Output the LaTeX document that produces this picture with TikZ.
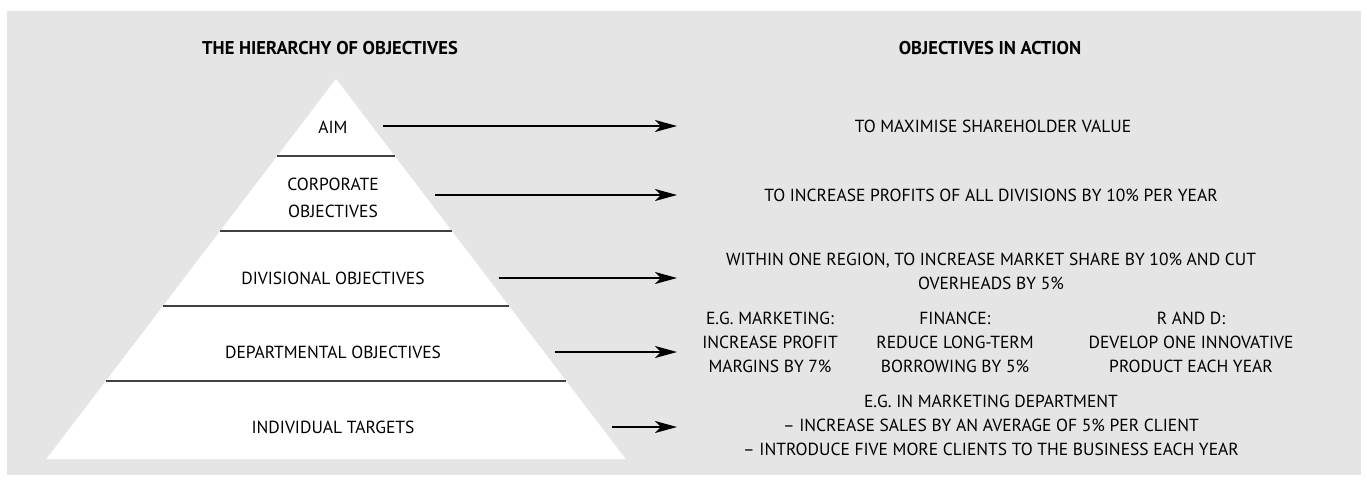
\documentclass[tikz,border=0pt]{standalone}
\usepackage{fontspec}
\setmainfont{PT Sans}
\usetikzlibrary{arrows.meta}

\tikzset{
  level/.style={align=center, font=\fontsize{17.5}{24}\selectfont, inner sep=0pt},
  action/.style={align=center, font=\fontsize{17.5}{24}\selectfont, inner sep=0pt},
  heading/.style={font=\bfseries\fontsize{18.5}{24}\selectfont, inner sep=0pt},
  band/.style={line width=1.3pt, black!75},
  goal/.style={-{Stealth[length=22pt, width=12pt, inset=6pt]}, line width=1.5pt},
}

\begin{document}
\begin{tikzpicture}[x=1pt, y=-1pt]
    % --- 参数 ---
    \def\midX{336}      % 金字塔中轴
    \def\apexY{79}      % 顶点高度
    \def\slope{0.762}   % 每下降 1 单位的半宽增量

    % --- 背景 ---
    \useasboundingbox (0,0) rectangle (1367,484);
    \fill[gray!20] (7,11) rectangle (1361,475);

    % --- 金字塔 ---
    \fill[white] (\midX,\apexY) -- ({\midX-\slope*(459-\apexY)},459)
        -- ({\midX+\slope*(459-\apexY)},459) -- cycle;
    % 分层线
    \foreach \y in {156,231,306,381}
        \draw[band] ({\midX-\slope*(\y-\apexY)},\y) -- ({\midX+\slope*(\y-\apexY)},\y);

    % --- 标题 ---
    \node[heading] (hier) at (330,48) {THE HIERARCHY OF OBJECTIVES};
    \node[heading] (act) at (990,48) {OBJECTIVES IN ACTION};

    % --- 层级名称 ---
    \node[level] (aim) at (333,127) {AIM};
    \node[level] (corp) at (333,198) {CORPORATE\\[3pt]OBJECTIVES};
    \node[level] (div) at (333,278) {DIVISIONAL OBJECTIVES};
    \node[level] (dept) at (333,352) {DEPARTMENTAL OBJECTIVES};
    \node[level] (ind) at (333,427) {INDIVIDUAL TARGETS};

    % --- 目标实例 ---
    \node[action] (aim-act) at (993,126) {TO MAXIMISE SHAREHOLDER VALUE};
    \node[action] (corp-act) at (991,195) {TO INCREASE PROFITS OF ALL DIVISIONS BY 10\% PER YEAR};
    \node[action] (div-act) at (991,271) {WITHIN ONE REGION, TO INCREASE MARKET SHARE BY 10\% AND CUT\\OVERHEADS BY 5\%};
    \node[action] (mkt) at (770,342) {E.G. MARKETING:\\INCREASE PROFIT\\MARGINS BY 7\%};
    \node[action] (fin) at (955,342) {FINANCE:\\REDUCE LONG-TERM\\BORROWING BY 5\%};
    \node[action] (rnd) at (1191,342) {R AND D:\\DEVELOP ONE INNOVATIVE\\PRODUCT EACH YEAR};
    \node[action] (ind-act) at (991,425) {E.G. IN MARKETING DEPARTMENT\\– INCREASE SALES BY AN AVERAGE OF 5\% PER CLIENT\\– INTRODUCE FIVE MORE CLIENTS TO THE BUSINESS EACH YEAR};

    % --- 箭头 (从金字塔右侧指向实例) ---
    \foreach \name/\y in {aim/126, corp/195, div/278, dept/352, ind/427} {
        \coordinate (\name-from) at ({\midX+\slope*(\y-\apexY)+11},\y);
        \coordinate (\name-to) at (677,\y);
        \draw[goal] (\name-from) -- (\name-to);
    }

\end{tikzpicture}
\end{document}
